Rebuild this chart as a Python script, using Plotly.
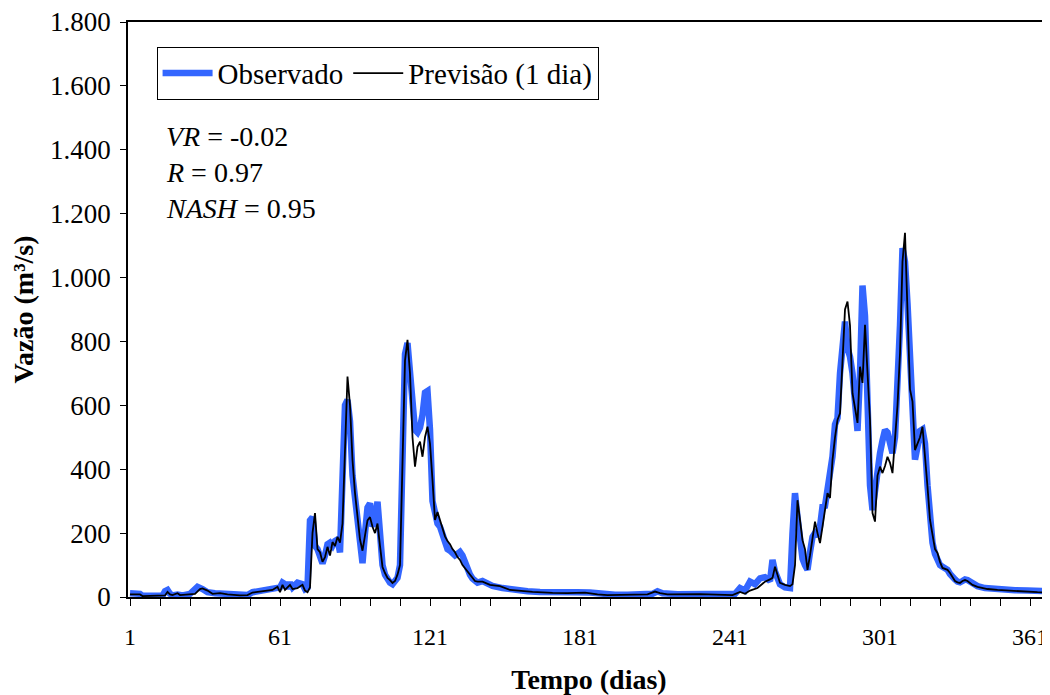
import plotly.graph_objs as go

# dias e vazoes (m3/s)
obs_dias = [1, 3, 5, 6, 10, 14, 15, 16, 17, 18, 20, 22, 25, 27, 28, 30, 32, 35, 38, 41,
            45, 48, 50, 53, 56, 59, 61, 62, 63, 64, 65, 66, 68, 70, 71, 72, 73, 74, 75, 76,
            77, 78, 79, 80, 81, 82, 83, 84, 85, 86, 87, 88, 89, 90, 91, 92, 93, 94, 95, 96,
            97, 98, 99, 100, 101, 102, 103, 104, 105, 106, 107, 108, 109, 110, 111, 112, 113, 114, 115, 116,
            117, 118, 119, 120, 121, 122, 123, 124, 125, 126, 127, 128, 129, 130, 131, 132, 133, 134, 135, 136,
            137, 138, 140, 142, 144, 146, 150, 155, 160, 165, 170, 175, 180, 185, 190, 195, 200, 205, 210, 212,
            214, 220, 230, 240, 243, 245, 247, 249, 251, 253, 255, 257, 258, 259, 261, 263, 265, 266, 267, 268,
            269, 270, 271, 272, 273, 274, 275, 276, 277, 278, 279, 280, 281, 282, 283, 284, 285, 286, 287, 288,
            289, 290, 291, 292, 293, 294, 295, 296, 297, 298, 299, 300, 301, 302, 303, 304, 305, 306, 307, 308,
            309, 310, 311, 312, 313, 314, 315, 316, 317, 318, 319, 320, 321, 322, 323, 324, 325, 326, 327, 328,
            329, 330, 331, 332, 333, 334, 335, 336, 337, 338, 340, 343, 346, 350, 355, 360, 365, 369]
obs_vazao = [12, 12, 10, 4, 3, 4, 18, 22, 10, 5, 8, 5, 10, 30, 32, 25, 15, 12, 10, 6,
             5, 6, 15, 18, 20, 25, 30, 45, 40, 28, 45, 30, 45, 40, 25, 30, 240, 250, 160, 150,
             120, 105, 130, 165, 170, 160, 175, 180, 140, 400, 600, 617, 550, 380, 300, 220, 140, 106, 200, 280,
             293, 220, 250, 298, 200, 100, 70, 55, 45, 40, 50, 60, 100, 500, 760, 795, 700, 560, 523, 515,
             530, 570, 640, 645, 523, 300, 260, 230, 220, 195, 170, 150, 145, 135, 130, 135, 141, 130, 105, 85,
             70, 58, 45, 50, 40, 35, 28, 22, 18, 16, 14, 13, 15, 14, 8, 7, 7, 8, 10, 18,
             12, 9, 9, 8, 10, 28, 20, 48, 40, 58, 62, 50, 116, 80, 40, 30, 28, 200, 325, 250,
             180, 120, 100, 85, 140, 188, 200, 190, 220, 283, 285, 340, 420, 440, 540, 560, 700, 800, 862, 780,
             752, 700, 600, 520, 700, 975, 880, 600, 350, 272, 345, 400, 450, 490, 523, 515, 480, 450, 500, 640,
             850, 1092, 1050, 920, 763, 640, 430, 470, 520, 525, 480, 350, 230, 170, 135, 115, 100, 95, 90, 85,
             72, 60, 55, 48, 46, 50, 55, 53, 48, 40, 34, 28, 25, 22, 21, 20, 18, 18]

prev_dias = [1, 5, 6, 14, 15, 16, 17, 18, 19, 20, 21, 24, 27, 29, 30, 32, 34, 37, 40, 45,
             48, 50, 55, 58, 60, 61, 62, 63, 64, 65, 66, 68, 70, 71, 72, 73, 74, 75, 76, 77,
             78, 79, 80, 81, 82, 83, 84, 85, 86, 87, 88, 89, 90, 91, 92, 93, 94, 95, 96, 97,
             98, 99, 100, 101, 102, 103, 104, 105, 106, 107, 108, 109, 110, 111, 112, 113, 114, 115, 116, 117,
             118, 119, 120, 121, 122, 123, 124, 125, 126, 127, 128, 129, 130, 131, 132, 133, 134, 135, 136, 137,
             138, 139, 140, 142, 145, 149, 153, 158, 162, 170, 176, 183, 188, 192, 200, 208, 211, 213, 216, 229,
             242, 245, 247, 249, 252, 255, 257, 258, 259, 260, 261, 263, 265, 266, 267, 268, 269, 270, 271, 272,
             273, 274, 275, 276, 277, 278, 279, 280, 281, 282, 283, 284, 285, 286, 287, 288, 289, 290, 291, 292,
             293, 294, 295, 296, 297, 298, 299, 300, 301, 302, 303, 304, 305, 306, 307, 308, 309, 310, 311, 312,
             313, 314, 315, 316, 317, 318, 319, 320, 321, 322, 323, 324, 325, 326, 327, 328, 329, 330, 331, 332,
             333, 334, 335, 336, 337, 338, 340, 344, 348, 352, 358, 364, 369]
prev_vazao = [8, 8, 3, 3, 5, 16, 8, 6, 10, 12, 6, 8, 10, 25, 27, 20, 10, 12, 8, 5,
              6, 14, 18, 22, 32, 15, 38, 22, 30, 38, 25, 28, 38, 20, 15, 30, 200, 263, 150, 140,
              110, 125, 157, 130, 172, 160, 188, 170, 230, 500, 690, 600, 429, 325, 240, 180, 145, 200, 240, 250,
              220, 200, 230, 160, 94, 75, 60, 53, 44, 50, 70, 100, 450, 740, 805, 700, 500, 408, 470, 486,
              439, 500, 533, 480, 366, 241, 266, 240, 210, 190, 175, 165, 150, 140, 125, 116, 100, 90, 80, 70,
              59, 50, 48, 48, 38, 34, 22, 18, 16, 13, 12, 14, 8, 6, 6, 8, 17, 12, 8, 9,
              6, 16, 10, 20, 28, 48, 55, 60, 95, 70, 44, 38, 34, 40, 100, 303, 230, 178, 150, 85,
              130, 188, 236, 200, 169, 220, 280, 325, 310, 429, 500, 554, 575, 763, 900, 925, 850, 638, 595, 545,
              721, 670, 852, 700, 554, 263, 236, 380, 408, 388, 410, 439, 420, 388, 482, 600, 763, 1050, 1140, 880,
              650, 612, 460, 480, 500, 533, 450, 345, 241, 190, 150, 138, 110, 91, 88, 85, 75, 60, 50, 46,
              44, 50, 53, 50, 45, 38, 32, 25, 22, 20, 19, 15, 14]

y_ticks = [0, 200, 400, 600, 800, 1000, 1200, 1400, 1600, 1800]
y_labels = ["0", "200", "400", "600", "800", "1.000", "1.200", "1.400", "1.600", "1.800"]
x_ticks = list(range(1, 370, 12))
x_labels = [str(d) if (d - 1) % 60 == 0 else "" for d in x_ticks]

estatisticas = ["<i>VR</i> = -0.02", "<i>R</i> = 0.97", "<i>NASH</i> = 0.95"]

serif = "Liberation Serif"

observado = go.Scatter(
    x=obs_dias, y=obs_vazao, name="Observado", mode="lines",
    line=dict(color="#3366FF", width=6.5)
)
previsao = go.Scatter(
    x=prev_dias, y=prev_vazao, name="Previsão (1 dia)", mode="lines",
    line=dict(color="black", width=1.8)
)

# o body da pagina tem 8px de margem, por isso 1042x687
layout = go.Layout(
    width=1042, height=687,
    margin=dict(l=120, r=0, t=14, b=98),
    paper_bgcolor="white", plot_bgcolor="white",
    font=dict(family=serif, color="black"),
    showlegend=True,
    legend=dict(
        orientation="h", x=0.031, y=0.957, xanchor="left", yanchor="top",
        bordercolor="black", borderwidth=1, bgcolor="white",
        font=dict(family=serif, size=29), itemwidth=50, tracegroupgap=0
    ),
    xaxis=dict(
        range=[0.2, 369], tickvals=x_ticks, ticktext=x_labels,
        ticks="outside", ticklen=7, tickcolor="black", tickwidth=1,
        showline=True, linecolor="black", linewidth=1.5, mirror=True,
        showgrid=False, zeroline=False, automargin=False, ticklabeloverflow="allow",
        tickfont=dict(family=serif, size=24), ticklabelstandoff=10,
        title=dict(text="<b>Tempo (dias)</b>", font=dict(family=serif, size=28), standoff=27)
    ),
    yaxis=dict(
        range=[0, 1800], tickvals=y_ticks, ticktext=y_labels,
        ticks="outside", ticklen=6, tickcolor="black", tickwidth=1,
        showline=True, linecolor="black", linewidth=1.5,
        showgrid=False, zeroline=False, automargin=False, ticklabeloverflow="allow",
        tickfont=dict(family=serif, size=27), ticklabelstandoff=4,
        title=dict(text="<b>Vazão (m³/s)</b>", font=dict(family=serif, size=28), standoff=12)
    ),
)

fig = go.Figure(data=[observado, previsao], layout=layout)

for i, texto in enumerate(estatisticas):
    fig.add_annotation(
        text=texto, xref="paper", yref="paper",
        x=0.039, y=0.80 - i * 0.062, xanchor="left", yanchor="middle",
        showarrow=False, font=dict(family=serif, size=28)
    )

fig.write_html("out.html")
